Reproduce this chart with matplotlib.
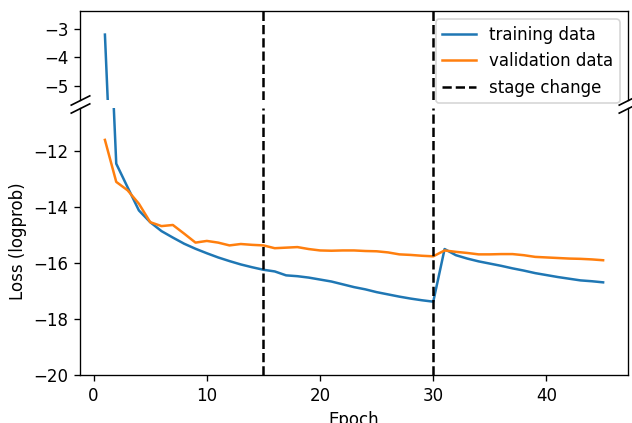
import numpy as np
import matplotlib
matplotlib.use("Agg")
import matplotlib.pyplot as plt

epochs = list(range(1, 46))
train_loss = [-3.2, -12.45, -13.29, -14.12, -14.54, -14.86, -15.09, -15.31, -15.49, -15.65,
              -15.8, -15.93, -16.05, -16.15, -16.24, -16.3, -16.44, -16.47, -16.52, -16.59,
              -16.66, -16.76, -16.86, -16.94, -17.04, -17.12, -17.2, -17.27, -17.33, -17.38,
              -15.5, -15.72, -15.84, -15.94, -16.02, -16.1, -16.19, -16.27, -16.36, -16.43,
              -16.5, -16.56, -16.62, -16.65, -16.69]
val_loss = [-11.6, -13.1, -13.4, -13.88, -14.54, -14.68, -14.64, -14.95, -15.27, -15.21,
            -15.27, -15.37, -15.32, -15.35, -15.37, -15.47, -15.45, -15.43, -15.5, -15.55,
            -15.56, -15.55, -15.55, -15.57, -15.58, -15.62, -15.69, -15.71, -15.74, -15.76,
            -15.55, -15.6, -15.64, -15.69, -15.69, -15.68, -15.68, -15.72, -15.78, -15.8,
            -15.82, -15.84, -15.85, -15.87, -15.9]
stage_changes = [15, 30]

dpi = 120
fig = plt.figure(figsize=(632 / dpi, 423 / dpi), dpi=dpi)
ax1 = fig.add_axes([0.1266, 0.7636, 0.8671, 0.2104])
ax2 = fig.add_axes([0.1266, 0.1135, 0.8671, 0.6312], sharex=ax1)

for ax in (ax1, ax2):
    ax.plot(epochs, train_loss, label="training data")
    ax.plot(epochs, val_loss, label="validation data")
    for i, s in enumerate(stage_changes):
        ax.axvline(s, color="k", linestyle="--", label="stage change" if i == 0 else None)

ax1.set_ylim(-5.5, -2.37)
ax2.set_ylim(-20, -10.46)

ax1.spines["bottom"].set_visible(False)
ax2.spines["top"].set_visible(False)
ax1.tick_params(bottom=False, labelbottom=False)

# break marks
d = 0.5
kw = dict(marker=[(-1, -d), (1, d)], markersize=12, linestyle="none",
          color="k", mec="k", mew=1, clip_on=False)
ax1.plot([0, 1], [0, 0], transform=ax1.transAxes, **kw)
ax2.plot([0, 1], [1, 1], transform=ax2.transAxes, **kw)

ax1.legend(loc="upper right")
ax2.set_xlabel("Epoch")
ax2.set_ylabel("Loss (logprob)")

fig.savefig("out.png", dpi=dpi)
